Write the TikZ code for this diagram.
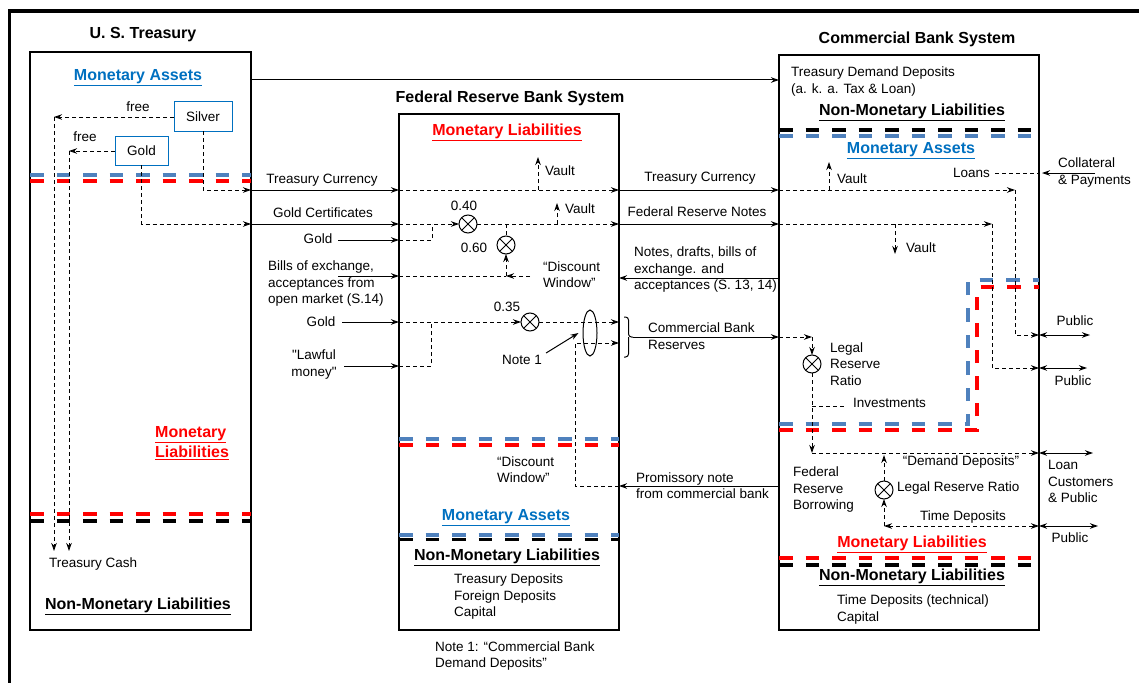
\documentclass[tikz,border=0pt]{standalone}
\usepackage{fontspec}
\setmainfont{Liberation Sans}
\newfontfamily\qfont{Liberation Sans}[Ligatures=TeXOff]
\usetikzlibrary{arrows.meta,calc,shapes.geometric}
\definecolor{tblue}{HTML}{0070C0}
\definecolor{dblue}{HTML}{4F81BD}
\definecolor{dred}{HTML}{FF0000}
\tikzset{
 txt/.style={inner sep=0pt, font=\fontsize{13.5}{16.5}\selectfont, align=left},
 hdr/.style={inner sep=0pt, font=\fontsize{16}{19}\selectfont\bfseries},
 sect/.style={inner sep=0pt, font=\fontsize{16}{20}\selectfont\bfseries, align=center},
 boxst/.style={draw, line width=2.2pt, inner sep=0pt, outer sep=0pt, anchor=north west},
 smallbox/.style={draw=tblue, line width=1pt, inner sep=0pt, outer sep=0pt, anchor=north west, font=\fontsize{13.5}{16}\selectfont},
 divider/.style={line width=3.5pt, dash pattern=on 13.5pt off 13pt},
 dline/.style={line width=0.9pt, dash pattern=on 4pt off 3pt},
 flow/.style={dline, ->},
 sline/.style={line width=1pt},
 sflow/.style={sline, ->},
 both/.style={sline, <->},
 ox/.style={circle, draw, line width=1pt, minimum size=18pt, inner sep=0pt, outer sep=0pt,
   path picture={\draw[line width=1pt] (path picture bounding box.north west) -- (path picture bounding box.south east)
     (path picture bounding box.north east) -- (path picture bounding box.south west);}},
}
\begin{document}
\begin{tikzpicture}[x=1pt,y=-1pt,>={Stealth[length=8pt,width=5.5pt,inset=2.5pt]}]
\useasboundingbox (0,0) rectangle (1139,682);
% outer frame
\coordinate (fBL) at (9.5,690);
\coordinate (fTL) at (9.5,11);
\coordinate (fTR) at (1145,11);
\draw[line width=3.5pt] (fBL) -- (fTL) -- (fTR);

% boxes
\node[boxst, minimum width=221, minimum height=578] (T) at (30,52) {};
\node[boxst, minimum width=220, minimum height=516] (F) at (399,114) {};
\node[boxst, minimum width=260, minimum height=575] (C) at (779,55) {};

% titles
\node[hdr] (tT) at (143,35) {U. S. Treasury};
\node[hdr] (tF) at (510,98) {Federal Reserve Bank System};
\node[hdr] (tC) at (917,39) {Commercial Bank System};

% section labels
\node[sect, text=tblue] (TmA) at (138,78) {\underline{Monetary Assets}};
\node[sect, text=dred, align=left, anchor=west] (TmL) at (155,443) {\underline{Monetary}\\\underline{Liabilities}};
\node[sect] (TnL) at (138,606) {\underline{Non-Monetary Liabilities}};
\node[sect, text=dred] (FmL) at (507,132) {\underline{Monetary Liabilities}};
\node[sect, text=tblue] (FmA) at (506,518) {\underline{Monetary Assets}};
\node[sect] (FnL) at (507,557) {\underline{Non-Monetary Liabilities}};
\node[sect] (CnL) at (912,112) {\underline{Non-Monetary Liabilities}};
\node[sect, text=tblue] (CmA) at (911,151) {\underline{Monetary Assets}};
\node[sect, text=dred] (CmL) at (912,544) {\underline{Monetary Liabilities}};
\node[sect] (CnL2) at (912,577) {\underline{Non-Monetary Liabilities}};

% dividers
\draw[divider, dblue] (30,175) -- (251,175);
\draw[divider, dred] (30,181) -- (251,181);
\draw[divider, dred] (30,514) -- (251,514);
\draw[divider, black] (30,521) -- (251,521);
\draw[divider, dblue] (399,439) -- (619,439);
\draw[divider, dred] (399,445) -- (619,445);
\draw[divider, dblue] (399,535) -- (619,535);
\draw[divider, black] (399,539.5) -- (619,539.5);
\draw[divider, black] (779,130) -- (1039,130);
\draw[divider, dblue] (779,136) -- (1039,136);
\draw[divider, dred] (779,558) -- (1039,558);
\draw[divider, black] (779,565) -- (1039,565);
\draw[divider, dblue] (779,424) -- (968,424) -- (968,280) -- (1039,280);
\draw[divider, dred] (779,430) -- (977,430) -- (977,287) -- (1039,287);

% Treasury: silver & gold
\node[smallbox, minimum width=58, minimum height=29] (S) at (174,102) {Silver};
\node[smallbox, minimum width=53, minimum height=29] (G) at (115,136) {Gold};
\node[txt] (fr1) at (138,107) {free};
\node[txt] (fr2) at (85,137) {free};
\coordinate (sc) at (54,117);
\coordinate (gc) at (69,151);
\coordinate (cash1) at (54,551);
\coordinate (cash2) at (69,551);
\draw[flow] (S.west |- sc) -- (sc);
\draw[flow] (sc) -- (cash1);
\draw[flow] (G.west |- gc) -- (gc);
\draw[flow] (gc) -- (cash2);
\node[txt, anchor=west] (tcash) at (49,564) {Treasury Cash};
\draw[flow] (S.south) |- (T.east |- 0,190);
\draw[flow] (G.south) |- (T.east |- 0,224);

% top arrow: treasury demand deposits
\draw[sflow] (T.east |- 0,80) -- (C.west |- 0,80);
\node[txt, anchor=west] (tdd) at (791,81.5) {Treasury Demand Deposits\\(a. k. a. Tax \& Loan)};

% Treasury currency row
\draw[sflow] (T.east |- 0,190) -- (F.west |- 0,190);
\node[txt] (ltc1) at (322,180) {Treasury Currency};
\draw[flow] (F.west |- 0,190) -- (F.east |- 0,190);
\coordinate (vf1a) at (538,190); \coordinate (vf1b) at (538,157);
\draw[flow] (vf1a) -- (vf1b);
\node[txt, anchor=west] (lv1) at (545,171) {Vault};
\draw[sflow] (F.east |- 0,190) -- (C.west |- 0,190);
\node[txt] (ltc2) at (700,178) {Treasury Currency};
\coordinate (c1) at (1015,190);
\draw[flow] (C.west |- c1) -- (c1);
\draw[flow] (c1) |- (C.east |- 0,335);
\coordinate (vc1a) at (829,190); \coordinate (vc1b) at (829,162);
\draw[flow] (vc1a) -- (vc1b);
\node[txt, anchor=west] (lv2) at (837,179) {Vault};
\coordinate (pub1) at (1090,335);
\draw[both] (C.east |- pub1) -- (pub1);
\node[txt] (lpub1) at (1075,321) {Public};

% Loans / collateral
\node[txt, anchor=east] (loans) at (990,173) {Loans};
\draw[dline] ([xshift=5]loans.east) -- (C.east |- loans);
\coordinate (coll) at (1095,173);
\draw[sflow] (coll) -- ([xshift=3]C.east |- coll);
\node[txt, anchor=west] (lcoll) at (1058,172.5) {Collateral\\\& Payments};

% Gold certificates / FRN row
\draw[sflow] (T.east |- 0,224) -- (F.west |- 0,224);
\node[txt] (lgc) at (323,213) {Gold Certificates};
\node[txt] (gold1) at (318,239) {Gold};
\draw[sflow] ([xshift=6]gold1.east |- 0,240) -- (F.west |- 0,240);
\draw[dline] (F.west |- 0,240) -| (432,224);
\node[ox] (x40) at (468,224) {};
\node[txt] (l40) at (464,206) {0.40};
\draw[flow] (F.west |- x40) -- (x40.west);
\draw[flow] (x40.east) -- (F.east |- x40);
\coordinate (vf2a) at (557,224); \coordinate (vf2b) at (557,203);
\draw[flow] (vf2a) -- (vf2b);
\node[txt, anchor=west] (lv3) at (565,209) {Vault};
\node[ox] (x60) at (506,245) {};
\node[txt] (l60) at (474,248) {0.60};
\draw[dline] (x60 |- x40) -- (x60.north);
\draw[sflow] (F.east |- 0,224) -- (C.west |- 0,224);
\node[txt] (lfrn) at (697,212) {Federal Reserve Notes};
\coordinate (c2) at (992,224);
\draw[flow] (C.west |- c2) -- (c2);
\draw[flow] (c2) |- (C.east |- 0,368);
\coordinate (vc2a) at (895,224); \coordinate (vc2b) at (895,254);
\draw[flow] (vc2a) -- (vc2b);
\node[txt, anchor=west] (lv4) at (906,248) {Vault};
\coordinate (pub2) at (1087,368);
\draw[both] (C.east |- pub2) -- (pub2);
\node[txt] (lpub2) at (1073,381) {Public};

% discount window / bills
\coordinate (dw) at (506,276);
\coordinate (dwr) at (530,276);
\draw[flow] (dw) -- (x60.south);
\draw[flow] (dwr) -- (dw);
\node[txt, anchor=west] (ldw) at (543,274.5) {“Discount\\Window”};
\node[txt, anchor=west] (bills) at (268,284) {Bills of exchange,\\acceptances from\\open market (S.14)};
\coordinate (bst) at (338,276);
\draw[sflow] (bst) -- (F.west |- bst);
\draw[dline] (F.west |- bst) -- (dw);
\coordinate (nts) at (779,278);
\draw[sflow] (C.west |- nts) -- (F.east |- nts);
\node[txt, anchor=west] (lnotes) at (634,270) {Notes, drafts, bills of\\exchange. and\\acceptances (S. 13, 14)};

% gold / lawful money
\node[txt] (gold2) at (321,322) {Gold};
\node[ox] (x35) at (530,322) {};
\node[txt] (l35) at (507,307) {0.35};
\draw[sflow] ([xshift=7]gold2.east |- x35) -- (F.west |- x35);
\draw[flow] (F.west |- x35) -- (x35.west);
\draw[flow] (x35.east) -- (F.east |- x35);
\node[txt, align=center] (law) at (314,364.5) {{\qfont "}Lawful\\money{\qfont "}};
\coordinate (lst) at (344,366);
\draw[sflow] (lst) -- (F.west |- lst);
\draw[dline] (F.west |- lst) -| (431,322);
\node[draw, ellipse, line width=1pt, minimum width=14, minimum height=46, inner sep=0pt] (ell) at (590,333) {};
\node[txt] (n1) at (522,360) {Note 1};
\draw[sflow] ([shift={(4,-7)}]n1.east) -- ([xshift=-4]ell.west);
\coordinate (pc) at (575,486);
\draw[flow] (F.east |- pc) -- (pc) |- (F.east |- 0,343);

% bracket & commercial bank reserves
\coordinate (brt) at (633,337);
\draw[sline, rounded corners=3pt] (624,317) -| (628.5,337) -- (brt);
\draw[sline, rounded corners=3pt] (624,357) -| (628.5,337);
\draw[sflow] (brt) -- (C.west |- brt);
\node[txt, anchor=west] (lcbr) at (648,336) {Commercial Bank\\Reserves};
\coordinate (lr) at (812,337);
\node[ox] (xl) at (812,364) {};
\draw[flow] (C.west |- lr) -- (lr);
\draw[flow] (lr) -- (xl.north);
\node[txt, anchor=west] (llrr) at (830,364) {Legal\\Reserve\\Ratio};
\coordinate (dd) at (812,453);
\draw[flow] (xl.south) -- (dd);
\coordinate (inv1) at (812,406); \coordinate (inv2) at (845,406);
\draw[dline] (inv1) -- (inv2);
\node[txt, anchor=west] (linv) at (853,403) {Investments};

% demand / time deposits
\draw[flow] (dd) -- (C.east |- dd);
\coordinate (pub3) at (1093,453);
\draw[both] (C.east |- pub3) -- (pub3);
\node[txt, anchor=west] (lloan) at (1048,481.5) {Loan\\Customers\\\& Public};
\node[txt] (ldd) at (961,462) {“Demand Deposits”};
\node[ox] (x2) at (884,490) {};
\coordinate (x2t) at (884,455);
\draw[flow] (x2.north) -- (x2t);
\coordinate (td) at (884,526);
\draw[flow] (td) -- (x2.south);
\draw[dline, <->] (td) -- (C.east |- td);
\coordinate (pub4) at (1098,526);
\draw[both] (C.east |- pub4) -- (pub4);
\node[txt] (lpub4) at (1070,538) {Public};
\node[txt, anchor=west] (llrr2) at (897,488) {Legal Reserve Ratio};
\node[txt] (ltd) at (963,517) {Time Deposits};
\node[txt, anchor=west] (lfrb) at (793,490) {Federal\\Reserve\\Borrowing};

% promissory note
\coordinate (prm) at (779,486);
\draw[sflow] (C.west |- prm) -- (F.east |- prm);
\node[txt, anchor=west] (lprom) at (636,485.5) {Promissory note\\from commercial bank};

% lower texts
\node[txt, anchor=west] (ldw2) at (497,469.5) {“Discount\\Window”};
\node[txt, anchor=west] (lfrl) at (454,597) {Treasury Deposits\\Foreign Deposits\\Capital};
\node[txt, anchor=west] (lnote) at (435,656) {Note 1: “Commercial Bank\\Demand Deposits”};
\node[txt, anchor=west] (lcbl) at (837,609.5) {Time Deposits (technical)\\Capital};
\end{tikzpicture}
\end{document}
